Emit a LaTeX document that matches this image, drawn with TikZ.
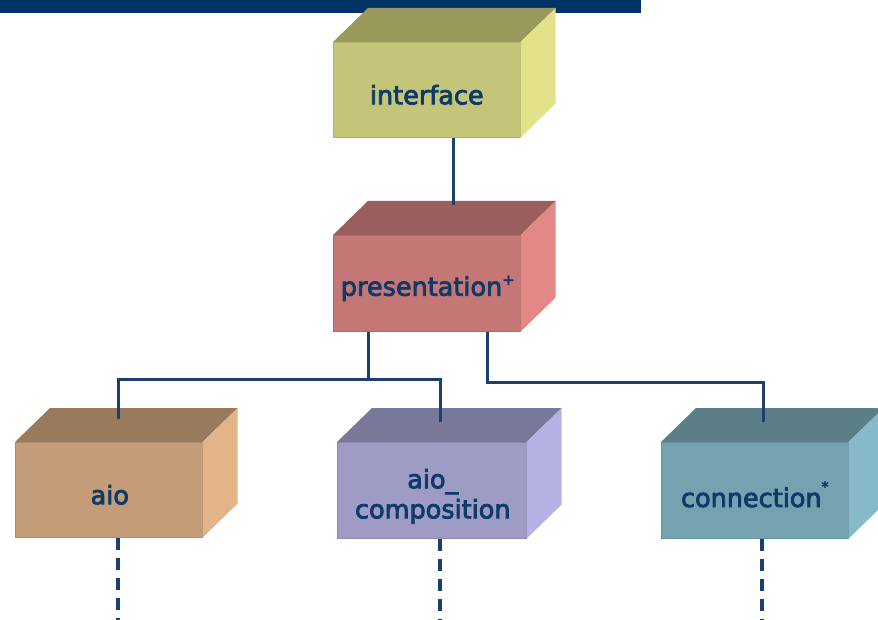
\documentclass[tikz,border=0pt]{standalone}
\usepackage{fontspec}
\newfontfamily\boxfont[FakeBold=3]{DejaVu Sans}
\usetikzlibrary{calc}
\definecolor{navy}{HTML}{003366}
\definecolor{linec}{HTML}{1B3F6E}
\definecolor{txt}{HTML}{0E3A68}
\definecolor{ifF}{HTML}{C5C57A}\definecolor{ifT}{HTML}{99995C}\definecolor{ifR}{HTML}{E2E28A}
\definecolor{prF}{HTML}{C47775}\definecolor{prT}{HTML}{9A5E5C}\definecolor{prR}{HTML}{E28886}
\definecolor{aiF}{HTML}{C49C77}\definecolor{aiT}{HTML}{9A7A5C}\definecolor{aiR}{HTML}{E2B488}
\definecolor{coF}{HTML}{9E9CC4}\definecolor{coT}{HTML}{7A789A}\definecolor{coR}{HTML}{B4B2E2}
\definecolor{cnF}{HTML}{74A2B0}\definecolor{cnT}{HTML}{5C7E88}\definecolor{cnR}{HTML}{86BACB}
\tikzset{
  front/.style={draw=#1!90!black, line width=0.6pt, fill=#1, rectangle, anchor=north west,
    inner sep=0pt, minimum width=187pt, minimum height=95pt},
  boxtext/.style={text=txt, font=\boxfont\fontsize{25.5}{30}\selectfont, align=center, inner sep=0pt},
  conn/.style={draw=linec, line width=3pt},
  dconn/.style={draw=linec, line width=3.4pt, dash pattern=on 12pt off 8pt},
}
\newcommand{\cubefaces}[3]{%
  \fill[#2] (#1.north west) -- ++(35,-34) -- ($(#1.north east)+(35,-34)$) -- (#1.north east) -- cycle;
  \fill[#3] (#1.north east) -- ++(35,-34) -- ($(#1.south east)+(35,-34)$) -- (#1.south east) -- cycle;
}
\begin{document}
\begin{tikzpicture}[x=1pt,y=-1pt]
\useasboundingbox (0,0) rectangle (878,620);
\clip (0,0) rectangle (878,620);
\fill[navy] (0,0) rectangle (641,13);

% front faces
\node[front=ifF] (interface) at (333,42) {};
\node[front=prF, minimum height=96pt] (presentation) at (333,235) {};
\node[front=aiF] (aio) at (15,442) {};
\node[front=coF, minimum width=189pt, minimum height=96pt] (aiocomp) at (337,442) {};
\node[front=cnF, minimum height=96pt] (connection) at (661,442) {};

\cubefaces{interface}{ifT}{ifR}
\cubefaces{presentation}{prT}{prR}
\cubefaces{aio}{aiT}{aiR}
\cubefaces{aiocomp}{coT}{coR}
\cubefaces{connection}{cnT}{cnR}

% labels
\node[boxtext] (interface-t) at ($(interface.center)+(0,5)$) {interface};
\node[boxtext] (presentation-t) at ($(presentation.center)+(1,5)$) {presentation\raisebox{0.42em}{\fontsize{15}{15}\selectfont +}};
\node[boxtext] (aio-t) at ($(aio.center)+(1,5)$) {aio};
\node[boxtext] (aiocomp-t) at ($(aiocomp.center)+(1,6)$) {aio\_\\composition};
\node[boxtext] (connection-t) at ($(connection.center)+(0,4)$) {connection\raisebox{0.6em}{\fontsize{14}{14}\selectfont *}};

% connector coordinates
\coordinate (p-in) at (453,205);
\coordinate (j1) at (368,379);
\coordinate (j2) at (487,382);
\coordinate (aio-in) at (118,419);
\coordinate (comp-in) at (440,422);
\coordinate (conn-in) at (763,422);
\coordinate (aio-end) at (118,620);
\coordinate (comp-end) at (440,620);
\coordinate (conn-end) at (762,620);

\draw[conn] (interface.south -| p-in) -- (p-in);
\draw[conn] (presentation.south -| j1) -- (j1);
\draw[conn] (aio-in) |- (j1) -| (comp-in);
\draw[conn] (presentation.south -| j2) -- (j2) -| (conn-in);

\draw[dconn] (aio.south -| aio-end) -- (aio-end);
\draw[dconn] (aiocomp.south -| comp-end) -- (comp-end);
\draw[dconn] (connection.south -| conn-end) -- (conn-end);
\end{tikzpicture}
\end{document}
